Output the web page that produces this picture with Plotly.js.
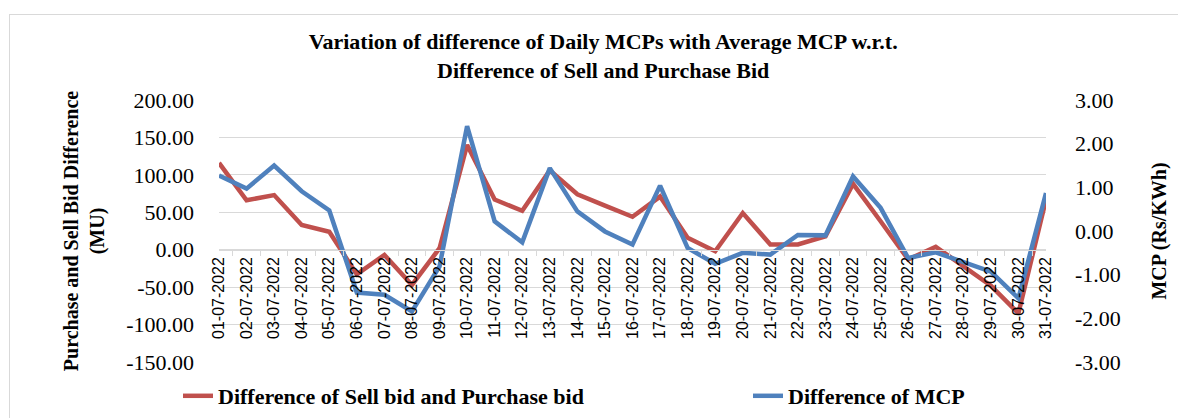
<!DOCTYPE html>
<html>
<head>
<meta charset="utf-8">
<script src="https://cdn.plot.ly/plotly-3.0.1.min.js"></script>
<style>
  html, body { margin: 0; padding: 0; background: #fff; }
  #wrap { position: relative; width: 1178px; height: 418px; overflow: hidden; }
  #chart { width: 1178px; height: 418px; }
  #frame { position: absolute; left: 9px; top: 14px; width: 1200px; height: 420px;
           border: 1px solid #d9d9d9; pointer-events: none; }
</style>
</head>
<body>
<div id="wrap">
  <div id="chart"></div>
  <div id="frame"></div>
</div>
<script>
const dates = ["01-07-2022","02-07-2022","03-07-2022","04-07-2022","05-07-2022","06-07-2022","07-07-2022","08-07-2022","09-07-2022","10-07-2022","11-07-2022","12-07-2022","13-07-2022","14-07-2022","15-07-2022","16-07-2022","17-07-2022","18-07-2022","19-07-2022","20-07-2022","21-07-2022","22-07-2022","23-07-2022","24-07-2022","25-07-2022","26-07-2022","27-07-2022","28-07-2022","29-07-2022","30-07-2022","31-07-2022"];

// Difference of Sell bid and Purchase bid (MU) - left axis
const bidDiff = [116, 66, 73, 33, 24, -33, -7, -47, 2, 140, 67, 52, 106, 74, 59, 44, 71, 16, -2, 49, 7, 7, 18, 88, 38, -13, 4, -22, -48, -85, 67];

// Difference of MCP (Rs/KWh) - right axis
const mcpDiff = [1.27, 0.97, 1.50, 0.91, 0.47, -1.41, -1.46, -1.84, -0.81, 2.40, 0.22, -0.26, 1.44, 0.45, -0.01, -0.31, 1.04, -0.39, -0.75, -0.50, -0.54, -0.09, -0.10, 1.25, 0.53, -0.62, -0.49, -0.70, -0.93, -1.54, 0.87];

const leftTickVals = [200, 150, 100, 50, 0, -50, -100, -150];
const leftTickText = ["200.00", "150.00", "100.00", "50.00", "0.00", "-50.00", "-100.00", "-150.00"];
const rightTickVals = [3, 2, 1, 0, -1, -2, -3];
const rightTickText = ["3.00", "2.00", "1.00", "0.00", "-1.00", "-2.00", "-3.00"];

const serif = "Liberation Serif, Times New Roman, serif";
const sans = "Liberation Sans, Arial, sans-serif";

const traces = [
  {
    x: dates, y: bidDiff, type: "scatter", mode: "lines",
    name: "Difference of Sell bid and Purchase bid",
    line: { color: "#C0504D", width: 4.5 },
    yaxis: "y", legend: "legend"
  },
  {
    x: dates, y: mcpDiff, type: "scatter", mode: "lines",
    name: "Difference of MCP",
    line: { color: "#4F81BD", width: 4.5 },
    yaxis: "y2", legend: "legend2"
  }
];

const legendFont = { family: serif, size: 22, color: "#000", weight: "bold" };

const layout = {
  width: 1178, height: 418,
  paper_bgcolor: "#ffffff", plot_bgcolor: "#ffffff",
  margin: { l: 219, r: 132, t: 100, b: 56, pad: 0, autoexpand: false },
  title: {
    text: "Variation of difference of Daily MCPs with Average MCP w.r.t.<br>Difference of Sell and Purchase Bid",
    font: { family: serif, size: 22, color: "#000", weight: "bold" },
    x: 0.512, xanchor: "center", y: 0.882, yanchor: "top"
  },
  showlegend: true,
  legend: {
    orientation: "h", xref: "container", yref: "container",
    x: 178 / 1178, xanchor: "left", y: 1 - 396 / 418, yanchor: "middle",
    font: legendFont, bgcolor: "rgba(0,0,0,0)"
  },
  legend2: {
    orientation: "h", xref: "container", yref: "container",
    x: 748 / 1178, xanchor: "left", y: 1 - 396 / 418, yanchor: "middle",
    font: legendFont, bgcolor: "rgba(0,0,0,0)"
  },
  xaxis: {
    type: "category",
    anchor: "free", position: 150 / 350,
    tickangle: -90,
    tickfont: { family: sans, size: 16, color: "#000" },
    showline: true, linecolor: "#d9d9d9", linewidth: 1,
    ticks: "outside", tickson: "boundaries", ticklen: 5, tickcolor: "#d9d9d9",
    showgrid: false, zeroline: false, fixedrange: true
  },
  yaxis: {
    range: [-150, 200],
    tickvals: leftTickVals, ticktext: leftTickText,
    tickfont: { family: serif, size: 22, color: "#000" },
    ticklabelstandoff: 24,
    showgrid: true, gridcolor: "#d9d9d9", gridwidth: 1,
    zeroline: false, showline: false, ticks: "",
    title: {
      text: "Purchase and Sell Bid Difference<br>(MU)",
      font: { family: serif, size: 20, color: "#000", weight: "bold" },
      standoff: 16
    }
  },
  yaxis2: {
    overlaying: "y", side: "right",
    range: [-3, 3],
    tickvals: rightTickVals, ticktext: rightTickText,
    tickfont: { family: serif, size: 22, color: "#000" },
    ticklabelstandoff: 28,
    showgrid: false, zeroline: false, showline: false, ticks: "",
    title: {
      text: "MCP (Rs/KWh)",
      font: { family: serif, size: 20, color: "#000", weight: "bold" },
      standoff: 32
    }
  }
};

Plotly.newPlot("chart", traces, layout, { displayModeBar: false, staticPlot: true });
</script>
</body>
</html>
